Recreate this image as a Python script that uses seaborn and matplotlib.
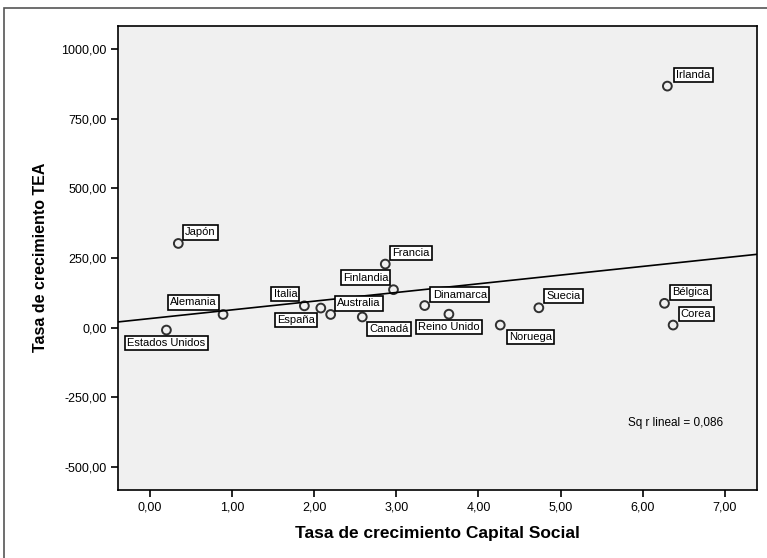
import numpy as np
import pandas as pd
import matplotlib
matplotlib.use("Agg")
import matplotlib.pyplot as plt
import seaborn as sns

# Growth rates per country
countries = ["Estados Unidos", "Japón", "Alemania", "Italia", "España", "Australia",
             "Canadá", "Francia", "Finlandia", "Dinamarca", "Reino Unido", "Noruega",
             "Suecia", "Irlanda", "Bélgica", "Corea"]
capital_social = [0.20, 0.345, 0.89, 1.88, 2.08, 2.20, 2.585, 2.865, 2.965, 3.345,
                  3.64, 4.265, 4.735, 6.30, 6.265, 6.37]
tea = [-9, 302, 47, 78, 70, 47, 38, 228, 136, 79, 48, 9, 71, 867, 87, 9]

# Label offsets (pixels) from each point to its label centre
label_dx = [0, 22, -30, -19, -25, 28, 27, 26, -28, 35, 0, 30, 25, 26, 26, 23]
label_dy = [-13, 11, 12, 12, -12, 11, -12, 11, 12, 11, -13, -12, 12, 11, 11, 11]

x_ticks = np.arange(0, 8, 1)
y_ticks = np.arange(-500, 1001, 250)

df = pd.DataFrame({"pais": countries, "cs": capital_social, "tea": tea})

sns.set_theme(style="white")
plt.rcParams["font.family"] = ["Liberation Sans", "DejaVu Sans"]
plt.rcParams["text.color"] = "black"
plt.rcParams["axes.labelcolor"] = "black"
plt.rcParams["xtick.color"] = "black"
plt.rcParams["ytick.color"] = "black"

fig = plt.figure(figsize=(7.67, 5.58), dpi=100)
ax = fig.add_axes([0.1538, 0.122, 0.833, 0.832])
ax.set_facecolor("#f0f0f0")

ax.set_xlim(-0.39, 7.39)
ax.set_ylim(-583, 1084)

sns.regplot(data=df, x="cs", y="tea", ax=ax, ci=None, truncate=False,
            scatter_kws=dict(s=40, facecolors="none", edgecolors="black", linewidths=1.4),
            line_kws=dict(color="black", linewidth=1.2))

for name, x, y, dx, dy in zip(countries, capital_social, tea, label_dx, label_dy):
    ax.annotate(name, (x, y), xytext=(dx, dy), textcoords="offset pixels",
                ha="center", va="center", fontsize=8, color="black",
                bbox=dict(boxstyle="square,pad=0.2", facecolor="white",
                          edgecolor="black", linewidth=1.2))

# Coefficient of determination of the linear fit
r = np.corrcoef(capital_social, tea)[0, 1]
r2_text = f"Sq r lineal = {r**2:.3f}".replace(".", ",")
ax.text(0.872, 0.144, r2_text, transform=ax.transAxes, ha="center", va="center",
        fontsize=8.5, color="black")

ax.set_xticks(x_ticks)
ax.set_xticklabels([f"{v:.2f}".replace(".", ",") for v in x_ticks])
ax.set_yticks(y_ticks)
ax.set_yticklabels([f"{v:.2f}".replace(".", ",") for v in y_ticks])
ax.tick_params(axis="both", which="major", direction="out", length=5, width=1.2,
               color="black", labelcolor="black", labelsize=9, left=True,
               bottom=True, pad=3)

for s in ax.spines.values():
    s.set_color("black")
    s.set_linewidth(1.2)

ax.set_xlabel("Tasa de crecimiento Capital Social", fontsize=12.5, fontweight="bold",
              labelpad=9, color="black")
ax.set_ylabel("Tasa de crecimiento TEA", fontsize=11.5, fontweight="bold",
              labelpad=10, color="black")

# Outer frame of the chart area
frame = plt.Rectangle((4 / 767, -0.1), 1.2, 1 - 8 / 558 + 0.1, transform=fig.transFigure,
                      fill=False, edgecolor="#555555", linewidth=1.2)
fig.add_artist(frame)

fig.savefig("out.png", dpi=100)
